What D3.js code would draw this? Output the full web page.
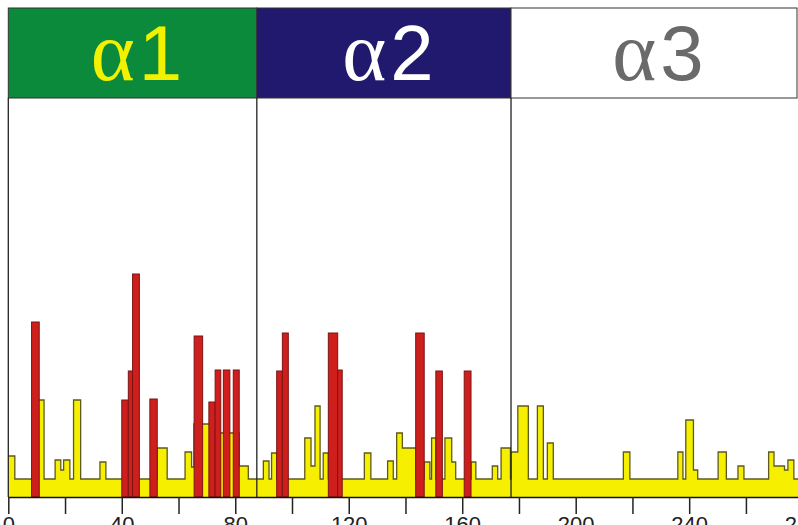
<!DOCTYPE html>
<html><head><meta charset="utf-8">
<script src="https://cdn.jsdelivr.net/npm/d3@7"></script>
<style>html,body{margin:0;padding:0;background:#fff;overflow:hidden}svg{display:block}</style>
</head><body>
<script>
// ---- data (residue position, value) ----
const panels = [
  {label: "α", num: "1", start: 0,    end: 87.6,  bg: "#0b8a3c", color: "#f2f200"},
  {label: "α", num: "2", start: 87.6, end: 177.2, bg: "#21196d", color: "#ffffff"},
  {label: "α", num: "3", start: 177.2, end: 278.6, bg: "#ffffff", color: "#6a6a6a"}
];
const baseLevel = 18;
// yellow profile segments: [from, to, value] (rest = baseLevel)
const yellowSteps = [
  [0, 2.3, 41], [9.5, 12.6, 97], [16.5, 18.5, 37], [18.5, 19.5, 27], [19.5, 21.7, 37],
  [23, 25.5, 97], [32.3, 34.4, 35], [52.5, 56, 49], [62.3, 64.6, 45], [64.6, 65.4, 30],
  [65.4, 71.1, 73], [71.1, 81.4, 64], [81.4, 84.6, 31],
  [89.9, 91.9, 36], [92.8, 94.6, 44], [104.5, 106.7, 59], [106.7, 108.1, 31], [108.1, 109.9, 91],
  [111, 112.8, 44], [125.5, 127.8, 44], [133.7, 135.7, 36], [136.9, 138.9, 64], [138.9, 143.6, 49],
  [146.6, 148.6, 35], [149.2, 150.7, 59], [153.9, 156.3, 59], [156.3, 157.7, 35],
  [163.1, 164.8, 35], [170.6, 172.5, 31], [173.7, 177, 49],
  [177.2, 179.6, 45], [179.6, 183.3, 91], [186.5, 188.6, 91], [190, 192.1, 54],
  [216.8, 219.1, 45], [236, 237.8, 45], [238.8, 241.5, 77], [241.5, 243, 27],
  [250.2, 253.1, 45], [257.2, 259.3, 31], [268, 269.9, 45], [269.9, 273.6, 31],
  [273.6, 274.8, 27], [274.8, 276.9, 37]
];
// red bars: [from, to, value]
const redBars = [
  [8.2, 10.9, 175], [40, 42.3, 97], [42.3, 43.8, 126], [43.8, 46.2, 223], [49.9, 52.5, 98],
  [65.5, 68.5, 161], [70.7, 72.9, 95], [72.9, 74.9, 127], [75.8, 78.1, 127], [79.3, 81.4, 127],
  [94.6, 96.6, 126], [96.6, 98.7, 164], [112.8, 116.1, 164], [116.1, 117.7, 127],
  [143.6, 146.6, 164], [150.7, 153, 126], [160.7, 163.1, 126]
];
const tickValues = [0, 20, 40, 60, 80, 100, 120, 140, 160, 180, 200, 220, 240, 260, 280];
const tickLabels = ["0", "", "40", "", "80", "", "120", "", "160", "", "200", "", "240", "", "280"];

// ---- layout ----
const W = 798, H = 525;
const x = d3.scaleLinear().domain([0, 280]).range([8.3, 8.3 + 280 * 2.837]);
const y = d3.scaleLinear().domain([0, 400]).range([497, 97]);
const headTop = 8, headBot = 98;

const svg = d3.select("body").append("svg").attr("width", W).attr("height", H);

// yellow profile points
const pts = [];
let cur = 0;
yellowSteps.forEach(([a, b, v]) => {
  if (a > cur) pts.push({p: cur, v: baseLevel});
  pts.push({p: a, v: v});
  cur = b;
});
pts.push({p: cur, v: baseLevel});
pts.push({p: 280, v: baseLevel});

const area = d3.area().curve(d3.curveStepAfter).x(d => x(d.p)).y0(y(0)).y1(d => y(d.v));
const line = d3.line().curve(d3.curveStepAfter).x(d => x(d.p)).y(d => y(d.v));

svg.append("path").datum(pts).attr("d", area).attr("fill", "#f6f000");
svg.append("path").datum(pts).attr("d", line).attr("fill", "none")
  .attr("stroke", "#5e5a1c").attr("stroke-width", 1.3);

svg.append("g").selectAll("rect").data(redBars).join("rect")
  .attr("x", d => x(d[0])).attr("width", d => x(d[1]) - x(d[0]))
  .attr("y", d => y(d[2])).attr("height", d => y(0) - y(d[2]))
  .attr("fill", "#cf1f1c").attr("stroke", "#7a1515").attr("stroke-width", 1);

// header boxes
const hg = svg.append("g");
panels.forEach(pn => {
  const x0 = x(pn.start), x1 = Math.min(x(pn.end), 797);
  hg.append("rect").attr("x", x0).attr("y", headTop).attr("width", x1 - x0).attr("height", headBot - headTop)
    .attr("fill", pn.bg).attr("stroke", "#333").attr("stroke-width", 1);
  const t = hg.append("text").attr("x", (x0 + x1) / 2 + 4).attr("y", 80)
    .attr("text-anchor", "middle").attr("fill", pn.color);
  t.append("tspan").text(pn.label).attr("font-family", "'Liberation Serif', 'DejaVu Serif', serif").attr("font-size", 84);
  t.append("tspan").text(pn.num).attr("font-family", "'Liberation Sans', Arial, sans-serif").attr("font-size", 78).attr("dx", 4);
});

// panel separators
svg.append("g").selectAll("line").data(panels).join("line")
  .attr("x1", d => x(d.start)).attr("x2", d => x(d.start))
  .attr("y1", headBot).attr("y2", y(0))
  .attr("stroke", "#222").attr("stroke-width", 1.3);

// x axis
const axis = d3.axisBottom(x).tickValues(tickValues)
  .tickFormat((d, i) => tickLabels[i]).tickSize(17).tickPadding(2).tickSizeOuter(0);
const ag = svg.append("g").attr("transform", `translate(0,${y(0)})`).call(axis);
ag.select(".domain").attr("stroke", "#111").attr("stroke-width", 1.5);
ag.selectAll(".tick line").attr("stroke", "#222").attr("stroke-width", 1.5);
ag.selectAll(".tick text").attr("font-family", "'Liberation Sans', Arial, sans-serif")
  .attr("font-size", 22).attr("fill", "#222");
</script>
</body></html>
